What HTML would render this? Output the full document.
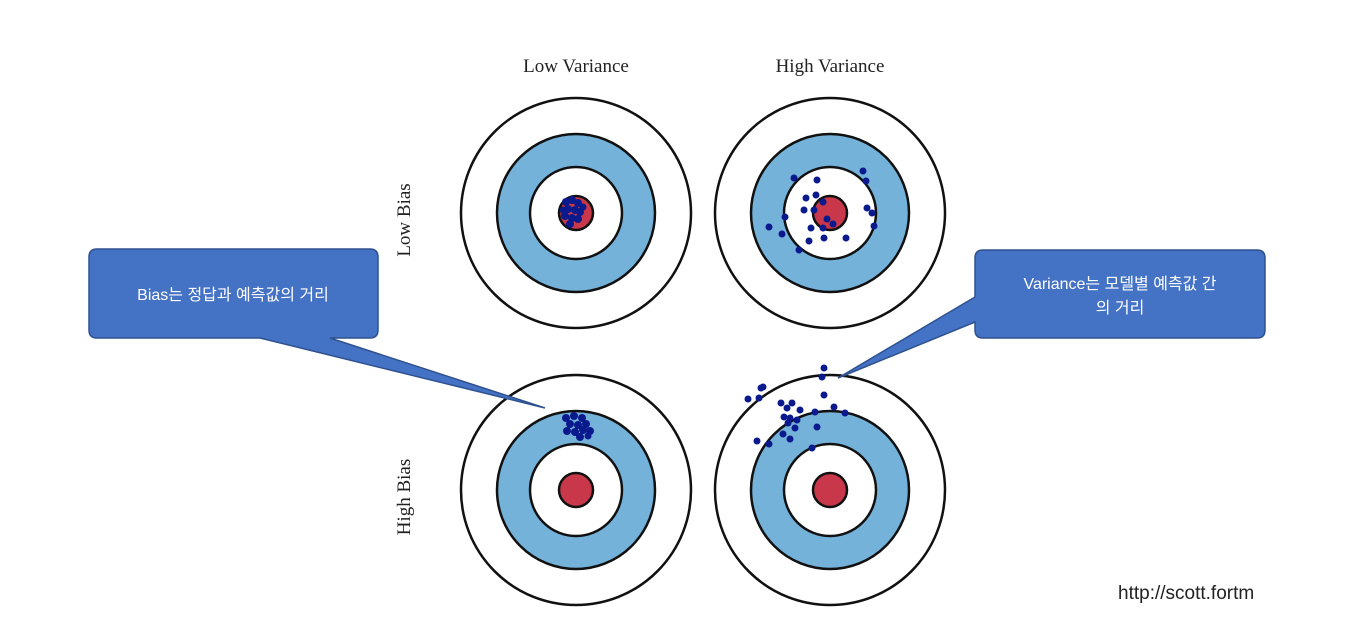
<!DOCTYPE html>
<html><head><meta charset="utf-8"><style>
body{margin:0;background:#fff;width:1353px;height:620px;overflow:hidden}
</style></head><body>
<svg width="1353" height="620" xmlns="http://www.w3.org/2000/svg">
<defs>
<g id="t">
<circle r="115" fill="#fff" stroke="#111" stroke-width="2.5"/>
<circle r="79" fill="#74b2da" stroke="#111" stroke-width="2.5"/>
<circle r="46" fill="#fff" stroke="#111" stroke-width="2.5"/>
<circle r="17" fill="#c8384a" stroke="#111" stroke-width="2.5"/>
</g>
</defs>
<use href="#t" x="576" y="213"/>
<use href="#t" x="830" y="213"/>
<use href="#t" x="576" y="490"/>
<use href="#t" x="830" y="490"/>
<g fill="#0a1a8c">
<!-- top-left cluster -->
<circle cx="566" cy="202" r="4"/><circle cx="572" cy="200" r="4"/><circle cx="578" cy="203" r="4"/><circle cx="568" cy="209" r="4"/><circle cx="575" cy="210" r="4"/><circle cx="580" cy="212" r="4"/><circle cx="565" cy="216" r="4"/><circle cx="572" cy="218" r="4"/><circle cx="578" cy="219" r="4"/><circle cx="570" cy="224" r="4"/><circle cx="583" cy="207" r="3.5"/><circle cx="563" cy="210" r="3.5"/>
<!-- top-right -->
<circle cx="794" cy="178" r="3.5"/><circle cx="817" cy="180" r="3.5"/><circle cx="863" cy="171" r="3.5"/><circle cx="866" cy="181" r="3.5"/><circle cx="806" cy="198" r="3.5"/><circle cx="816" cy="195" r="3.5"/><circle cx="823" cy="202" r="3.5"/><circle cx="804" cy="210" r="3.5"/><circle cx="814" cy="210" r="3.5"/><circle cx="867" cy="208" r="3.5"/><circle cx="872" cy="213" r="3.5"/><circle cx="785" cy="217" r="3.5"/><circle cx="769" cy="227" r="3.5"/><circle cx="827" cy="219" r="3.5"/><circle cx="833" cy="224" r="3.5"/><circle cx="811" cy="228" r="3.5"/><circle cx="823" cy="228" r="3.5"/><circle cx="874" cy="226" r="3.5"/><circle cx="782" cy="234" r="3.5"/><circle cx="809" cy="241" r="3.5"/><circle cx="824" cy="238" r="3.5"/><circle cx="846" cy="238" r="3.5"/><circle cx="799" cy="250" r="3.5"/>
<!-- bottom-left -->
<circle cx="566" cy="418" r="4"/><circle cx="574" cy="416" r="4"/><circle cx="582" cy="418" r="4"/><circle cx="570" cy="424" r="4"/><circle cx="578" cy="425" r="4"/><circle cx="586" cy="424" r="4"/><circle cx="567" cy="431" r="4"/><circle cx="575" cy="432" r="4"/><circle cx="583" cy="430" r="4"/><circle cx="590" cy="431" r="4"/><circle cx="580" cy="437" r="4"/><circle cx="588" cy="436" r="3.5"/>
<!-- bottom-right -->
<circle cx="824" cy="368" r="3.5"/><circle cx="822" cy="377" r="3.5"/><circle cx="763" cy="387" r="3.5"/><circle cx="761" cy="388" r="3.5"/><circle cx="748" cy="399" r="3.5"/><circle cx="759" cy="398" r="3.5"/><circle cx="824" cy="395" r="3.5"/><circle cx="781" cy="403" r="3.5"/><circle cx="792" cy="403" r="3.5"/><circle cx="787" cy="408" r="3.5"/><circle cx="800" cy="410" r="3.5"/><circle cx="815" cy="412" r="3.5"/><circle cx="834" cy="407" r="3.5"/><circle cx="845" cy="413" r="3.5"/><circle cx="784" cy="417" r="3.5"/><circle cx="790" cy="418" r="3.5"/><circle cx="797" cy="420" r="3.5"/><circle cx="788" cy="423" r="3.5"/><circle cx="795" cy="428" r="3.5"/><circle cx="817" cy="427" r="3.5"/><circle cx="783" cy="434" r="3.5"/><circle cx="790" cy="439" r="3.5"/><circle cx="757" cy="441" r="3.5"/><circle cx="769" cy="444" r="3.5"/><circle cx="812" cy="448" r="3.5"/>
</g>
<g font-family="Liberation Serif, serif" font-size="19" fill="#222" text-anchor="middle">
<text x="576" y="72">Low Variance</text>
<text x="830" y="72">High Variance</text>
<text transform="translate(410,220) rotate(-90)">Low Bias</text>
<text transform="translate(410,497) rotate(-90)">High Bias</text>
</g>
<!-- callouts -->
<path d="M97,249 H370 Q378,249 378,257 V330 Q378,338 370,338 H330 L545,408 L260,338 H97 Q89,338 89,330 V257 Q89,249 97,249 Z" fill="#4472c4" stroke="#2f528f" stroke-width="1.5"/>
<path d="M983,250 H1257 Q1265,250 1265,258 V330 Q1265,338 1257,338 H983 Q975,338 975,330 V322 L838,378 L975,297 V258 Q975,250 983,250 Z" fill="#4472c4" stroke="#2f528f" stroke-width="1.5"/>
<g font-family="Liberation Sans, 'Noto Sans CJK KR', sans-serif" font-size="16" fill="#fff" text-anchor="middle">
<text x="233" y="300">Bias는 정답과 예측값의 거리</text>
<text x="1120" y="289">Variance는 모델별 예측값 간</text>
<text x="1120" y="313">의 거리</text>
</g>
<text x="1118" y="599" font-family="Liberation Sans, sans-serif" font-size="19" fill="#222">http://scott.fortm</text>
<rect x="1270" y="570" width="83" height="40" fill="#fff"/>
</svg>
</body></html>
